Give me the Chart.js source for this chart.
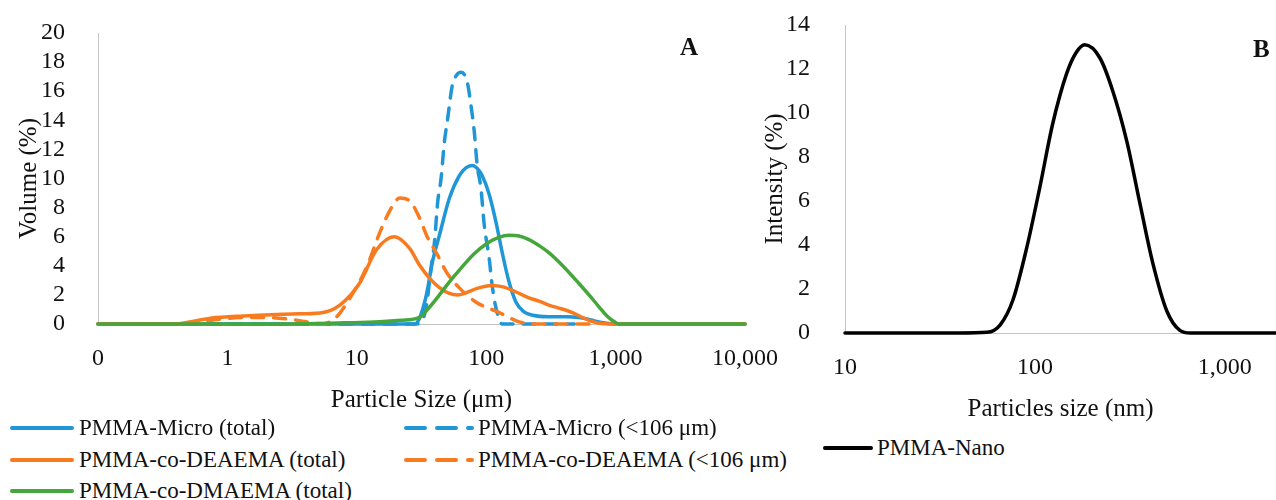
<!DOCTYPE html>
<html>
<head>
<meta charset="utf-8">
<script src="https://cdn.jsdelivr.net/npm/chart.js@4/dist/chart.umd.min.js"></script>
<style>
  body { margin: 0; background: #fff; }
  #wrap { position: relative; width: 1276px; height: 500px; overflow: hidden; font-family: "Liberation Serif", serif; color: #111; }
  canvas { position: absolute; top: 0; }
  #chartA { left: 0; }
  #chartB { left: 755px; }
  .tag { position: absolute; font-weight: bold; font-size: 25px; line-height: 1; }
  .lg { position: absolute; font-size: 23px; line-height: 1; white-space: nowrap; }
  .lg-line { position: absolute; }
</style>
</head>
<body>
<div id="wrap">
  <canvas id="chartA" width="790" height="420"></canvas>
  <canvas id="chartB" width="521" height="430"></canvas>
  <div class="tag" style="left:680px;top:34px">A</div>
  <div class="tag" style="left:1253px;top:36px">B</div>
</div>
<script>
// ---- panel A: particle size (um) vs volume (%) ----
const microTotalSize = [0.1, 20, 28, 30.5, 34.5, 38.5, 43.5, 52, 62, 70, 78, 85, 93, 105.5, 119, 133, 150, 170, 195, 230, 300, 420, 520, 600, 700, 850, 1000, 10000];
const microTotalVol  = [0, 0, 0, 0.4, 2.0, 4.3, 6.1, 8.66, 10.2, 10.75, 10.9, 10.7, 10.2, 8.9, 7.0, 4.9, 2.9, 1.5, 0.85, 0.6, 0.5, 0.5, 0.45, 0.35, 0.2, 0.06, 0, 0];

const microSubSize = [0.1, 20, 28, 30.5, 34.3, 37.5, 39.8, 42.2, 44.8, 47.5, 50, 54.7, 59, 64, 71.5, 76.2, 80.9, 85.2, 91, 96.6, 105.5, 111, 119, 133, 200, 480];
const microSubVol  = [0, 0, 0, 0.05, 1.1, 3.85, 5.6, 8.4, 10.0, 12.5, 13.9, 16.4, 17.1, 17.3, 16.6, 15.05, 13.2, 10.9, 9.35, 6.8, 4.5, 2.7, 1.1, 0, 0, 0];

const deaTotalSize = [0.1, 0.38, 0.74, 1.33, 3.2, 5.2, 7.4, 10.5, 14.2, 19.5, 25.6, 30.5, 36.4, 43.5, 52, 60, 70, 85, 110, 135, 170, 214, 260, 305, 380, 458, 540, 616, 750, 900, 10000];
const deaTotalVol  = [0, 0, 0.4, 0.55, 0.69, 0.76, 1.3, 2.8, 5.1, 6.0, 5.2, 4.05, 3.15, 2.5, 2.1, 2.0, 2.15, 2.45, 2.65, 2.55, 2.2, 1.8, 1.55, 1.3, 1.05, 0.8, 0.5, 0.27, 0.05, 0, 0];

const deaSubSize = [0.1, 0.45, 0.8, 1.5, 2.5, 3.5, 4.5, 5.5, 6.5, 7.4, 9.3, 11.9, 15, 18, 21.5, 26, 30.5, 35, 42, 49, 61.7, 83.7, 125, 180, 250, 700];
const deaSubVol  = [0, 0, 0.3, 0.45, 0.4, 0.25, 0.08, 0, 0.27, 0.75, 2.1, 3.9, 6.25, 7.8, 8.66, 8.4, 7.3, 6.0, 4.75, 3.6, 2.5, 1.5, 0.8, 0.15, 0, 0];

const dmaTotalSize = [0.1, 3, 8, 15, 22, 30.5, 36, 43.5, 52, 62, 80, 100, 125, 150, 180, 214, 260, 305, 400, 519, 630, 741, 870, 1000, 1060, 10000];
const dmaTotalVol  = [0, 0, 0.08, 0.15, 0.25, 0.45, 1.1, 2.0, 2.9, 3.7, 4.8, 5.5, 5.95, 6.1, 6.05, 5.8, 5.35, 4.9, 3.9, 2.8, 1.95, 1.2, 0.5, 0.1, 0, 0];

const sizeTicksA  = [0.1, 1, 10, 100, 1000, 10000];
const sizeLabelsA = ['0', '1', '10', '100', '1,000', '10,000'];

// ---- panel B: particle size (nm) vs intensity (%) ----
const nanoSize = [10, 40, 56, 65.5, 76.6, 90.7, 106, 124, 147, 165, 183, 220, 257, 305, 357, 417, 495, 580, 660, 1860];
const nanoInt  = [0, 0, 0.03, 0.36, 1.5, 3.9, 6.6, 9.5, 11.8, 12.75, 13.1, 12.5, 11.0, 8.7, 5.9, 3.2, 1.0, 0.12, 0, 0];

const sizeTicksB  = [10, 100, 1000];
const sizeLabelsB = ['10', '100', '1,000'];

const blue = '#1f97d7';
const orange = '#f97b1f';
const green = '#45a73a';
const black = '#000000';
const axisGrey = '#c4c4c4';
const textColor = '#111111';

Chart.defaults.font.family = '"Liberation Serif", serif';
Chart.defaults.color = textColor;

function toPoints(xs, ys) {
    return xs.map((x, i) => ({ x: x, y: ys[i] }));
}

function series(label, xs, ys, color, dashed, order) {
    return {
        label: label,
        data: toPoints(xs, ys),
        borderColor: color,
        backgroundColor: color,
        borderWidth: 3.5,
        borderDash: dashed ? [12, 10] : [],
        borderCapStyle: 'round',
        borderJoinStyle: 'round',
        cubicInterpolationMode: 'monotone',
        pointRadius: 0,
        fill: false,
        clip: false,
        order: order
    };
}

function baseOptions(o) {
    return {
        responsive: false,
        animation: false,
        devicePixelRatio: 1,
        layout: { padding: o.padding },
        plugins: { legend: { display: false }, tooltip: { enabled: false } },
        scales: {
            x: {
                type: 'logarithmic',
                min: o.xMin,
                max: o.xMax,
                afterBuildTicks: s => { s.ticks = o.xTicks.map(v => ({ value: v })); },
                afterFit: s => { s.height = o.xHeight; s.paddingLeft = 0; s.paddingRight = 0; },
                ticks: {
                    autoSkip: false,
                    maxRotation: 0,
                    padding: 12,
                    font: { size: 24 },
                    color: textColor,
                    callback: (v, i) => o.xLabels[i]
                },
                grid: { display: false },
                border: { display: true, color: axisGrey, width: 1 },
                title: { display: true, text: o.xTitle, font: { size: 25 }, color: textColor, padding: { top: 0, bottom: o.xTitlePad } }
            },
            y: {
                min: 0,
                max: o.yMax,
                afterFit: s => { s.width = o.yWidth; s.paddingTop = 0; s.paddingBottom = 0; },
                ticks: { stepSize: 2, autoSkip: false, padding: o.yTickPad, font: { size: 24 }, color: textColor },
                grid: { display: false },
                border: { display: true, color: axisGrey, width: 1 },
                title: { display: true, text: o.yTitle, font: { size: 25 }, color: textColor, padding: { top: o.yTitlePad, bottom: 0 } }
            }
        }
    };
}

new Chart(document.getElementById('chartA'), {
    type: 'line',
    data: {
        datasets: [
            series('PMMA-Micro (total)', microTotalSize, microTotalVol, blue, false, 5),
            series('PMMA-Micro (<106 μm)', microSubSize, microSubVol, blue, true, 4),
            series('PMMA-co-DEAEMA (total)', deaTotalSize, deaTotalVol, orange, false, 3),
            series('PMMA-co-DEAEMA (<106 μm)', deaSubSize, deaSubVol, orange, true, 2),
            series('PMMA-co-DMAEMA (total)', dmaTotalSize, dmaTotalVol, green, false, 1)
        ]
    },
    options: baseOptions({
        padding: { top: 33, right: 45, left: 0, bottom: 0 },
        xMin: 0.1, xMax: 10000, xTicks: sizeTicksA, xLabels: sizeLabelsA,
        xHeight: 96, xTitle: 'Particle Size (μm)', xTitlePad: 5,
        yMax: 20, yWidth: 98, yTickPad: 25, yTitle: 'Volume (%)', yTitlePad: 14
    })
});

new Chart(document.getElementById('chartB'), {
    type: 'line',
    data: {
        datasets: [
            series('PMMA-Nano', nanoSize, nanoInt, black, false, 1)
        ]
    },
    options: baseOptions({
        padding: { top: 25, right: 0, left: 0, bottom: 0 },
        xMin: 10, xMax: 1860, xTicks: sizeTicksB, xLabels: sizeLabelsB,
        xHeight: 97, xTitle: 'Particles size (nm)', xTitlePad: 6,
        yMax: 14, yWidth: 90, yTickPad: 27, yTitle: 'Intensity (%)', yTitlePad: 5
    })
});

// legends drawn as html so the two-column layout matches
const wrap = document.getElementById('wrap');
function legendItem(lineX, lineW, y, color, dashed, textX, text) {
    const svgNS = 'http://www.w3.org/2000/svg';
    const svg = document.createElementNS(svgNS, 'svg');
    svg.setAttribute('class', 'lg-line');
    svg.setAttribute('width', lineW + 8);
    svg.setAttribute('height', 10);
    svg.style.left = (lineX - 4) + 'px';
    svg.style.top = (y - 5) + 'px';
    const ln = document.createElementNS(svgNS, 'line');
    ln.setAttribute('x1', 4);
    ln.setAttribute('x2', 4 + lineW);
    ln.setAttribute('y1', 5);
    ln.setAttribute('y2', 5);
    ln.setAttribute('stroke', color);
    ln.setAttribute('stroke-width', 4);
    ln.setAttribute('stroke-linecap', 'round');
    if (dashed) ln.setAttribute('stroke-dasharray', '19 12');
    svg.appendChild(ln);
    wrap.appendChild(svg);

    const d = document.createElement('div');
    d.className = 'lg';
    d.style.left = textX + 'px';
    d.style.top = (y - 12) + 'px';
    d.textContent = text;
    wrap.appendChild(d);
}

legendItem(12, 60, 428, blue, false, 79, 'PMMA-Micro (total)');
legendItem(406, 66, 428, blue, true, 478, 'PMMA-Micro (<106 μm)');
legendItem(12, 60, 460, orange, false, 79, 'PMMA-co-DEAEMA (total)');
legendItem(406, 66, 460, orange, true, 478, 'PMMA-co-DEAEMA (<106 μm)');
legendItem(12, 60, 491, green, false, 79, 'PMMA-co-DMAEMA (total)');
legendItem(825, 46, 448, black, false, 877, 'PMMA-Nano');
</script>
</body>
</html>
